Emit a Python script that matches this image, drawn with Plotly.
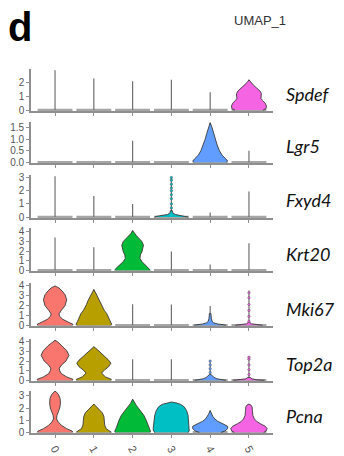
import plotly.graph_objects as go

W, H = 344, 456

clusters = ["0", "1", "2", "3", "4", "5"]
genes = ["Spdef", "Lgr5", "Fxyd4", "Krt20", "Mki67", "Top2a", "Pcna"]
cluster_colors = ["#F8766D", "#B79F00", "#00BA38", "#00BFC4", "#619CFF", "#F564E3"]

# Highest expression per cluster (top of each violin tail); 0 = no expressing cells
spdef_max = [2.9, 2.3, 2.1, 2.2, 1.3, 2.2]
lgr5_max = [0.0, 0.0, 0.94, 0.0, 1.72, 0.5]
fxyd4_max = [3.1, 1.6, 1.0, 3.0, 0.35, 1.95]
krt20_max = [3.4, 2.4, 4.13, 1.95, 0.6, 2.8]
mki67_max = [4.0, 3.63, 2.13, 2.1, 1.97, 3.53]
top2a_max = [4.17, 3.49, 2.19, 2.2, 2.1, 2.5]
pcna_max = [3.4, 2.33, 2.73, 2.5, 1.79, 2.33]

# Violin bodies: expression levels and density half-widths (in cluster-slot units)
spdef_c5_levels = [0, 0.1, 0.3, 0.5, 0.7, 0.85, 1.0, 1.2, 1.4, 1.6, 1.8, 2.0, 2.2]
spdef_c5_width = [0.36, 0.44, 0.45, 0.42, 0.35, 0.31, 0.32, 0.32, 0.28, 0.2, 0.12, 0.05, 0.0]

lgr5_c4_levels = [0, 0.05, 0.15, 0.3, 0.5, 0.75, 1.0, 1.25, 1.5, 1.72]
lgr5_c4_width = [0.42, 0.45, 0.4, 0.31, 0.24, 0.18, 0.13, 0.09, 0.05, 0.0]

fxyd4_c3_levels = [0, 0.05, 0.1, 0.15, 0.2, 0.3, 0.5]
fxyd4_c3_width = [0.43, 0.4, 0.3, 0.18, 0.1, 0.04, 0.02]

krt20_c2_levels = [0, 0.1, 0.3, 0.54, 0.9, 1.23, 1.6, 1.91, 2.3, 2.6, 3.0, 3.28, 3.6, 3.79, 4.13]
krt20_c2_width = [0.46, 0.45, 0.4, 0.33, 0.24, 0.19, 0.2, 0.24, 0.27, 0.28, 0.24, 0.17, 0.1, 0.05, 0.0]

mki67_c0_levels = [0, 0.1, 0.3, 0.6, 0.9, 1.15, 1.5, 2.0, 2.6, 3.1, 3.5, 3.8, 4.0]
mki67_c0_width = [0.45, 0.46, 0.35, 0.2, 0.12, 0.1, 0.16, 0.26, 0.3, 0.26, 0.18, 0.1, 0.0]
mki67_c1_levels = [0, 0.1, 0.4, 0.8, 1.2, 1.5, 1.8, 2.1, 2.5, 2.8, 3.2, 3.63]
mki67_c1_width = [0.44, 0.46, 0.42, 0.37, 0.33, 0.27, 0.22, 0.19, 0.15, 0.11, 0.06, 0.0]
mki67_c4_levels = [0, 0.05, 0.12, 0.25, 0.4, 0.7, 1.2]
mki67_c4_width = [0.4, 0.35, 0.2, 0.09, 0.05, 0.03, 0.02]
mki67_c5_levels = [0, 0.05, 0.15, 0.3]
mki67_c5_width = [0.35, 0.2, 0.06, 0.02]

top2a_c0_levels = [0, 0.1, 0.35, 0.7, 1.0, 1.26, 1.6, 2.0, 2.6, 3.1, 3.6, 4.0, 4.17]
top2a_c0_width = [0.45, 0.46, 0.3, 0.16, 0.12, 0.11, 0.17, 0.28, 0.36, 0.3, 0.18, 0.07, 0.0]
top2a_c1_levels = [0, 0.1, 0.35, 0.75, 1.1, 1.4, 1.78, 2.1, 2.5, 2.9, 3.2, 3.49]
top2a_c1_width = [0.44, 0.45, 0.3, 0.2, 0.28, 0.38, 0.44, 0.38, 0.27, 0.17, 0.09, 0.0]
top2a_c4_levels = [0, 0.05, 0.15, 0.3, 0.45, 0.6]
top2a_c4_width = [0.4, 0.3, 0.18, 0.1, 0.05, 0.02]
top2a_c5_levels = [0, 0.05, 0.15, 0.3]
top2a_c5_width = [0.4, 0.2, 0.08, 0.03]

pcna_c0_levels = [0, 0.1, 0.3, 0.57, 0.85, 1.1, 1.4, 1.7, 2.0, 2.4, 2.8, 3.1, 3.3, 3.4]
pcna_c0_width = [0.46, 0.44, 0.3, 0.17, 0.08, 0.04, 0.05, 0.08, 0.12, 0.14, 0.13, 0.09, 0.04, 0.0]
pcna_c1_levels = [0, 0.1, 0.3, 0.6, 1.0, 1.3, 1.6, 1.9, 2.1, 2.33]
pcna_c1_width = [0.45, 0.42, 0.32, 0.28, 0.27, 0.26, 0.22, 0.14, 0.07, 0.0]
pcna_c2_levels = [0, 0.1, 0.3, 0.6, 1.0, 1.4, 1.7, 1.95, 2.2, 2.4, 2.73]
pcna_c2_width = [0.45, 0.46, 0.43, 0.4, 0.35, 0.29, 0.22, 0.16, 0.1, 0.05, 0.0]
pcna_c3_levels = [0, 0.1, 0.3, 0.6, 1.0, 1.4, 1.8, 2.1, 2.3, 2.43, 2.5]
pcna_c3_width = [0.42, 0.46, 0.47, 0.46, 0.44, 0.43, 0.39, 0.33, 0.24, 0.12, 0.0]
pcna_c4_levels = [0, 0.1, 0.3, 0.5, 0.7, 0.9, 1.1, 1.3, 1.5, 1.79]
pcna_c4_width = [0.28, 0.38, 0.45, 0.45, 0.33, 0.2, 0.12, 0.07, 0.04, 0.0]
pcna_c5_levels = [0, 0.1, 0.3, 0.5, 0.7, 0.9, 1.1, 1.4, 1.8, 2.1, 2.25, 2.33]
pcna_c5_width = [0.38, 0.44, 0.47, 0.42, 0.3, 0.2, 0.14, 0.1, 0.09, 0.08, 0.05, 0.0]

# Individual high-expressing cells shown as points along sparse tails
fxyd4_c3_cells = [0.7, 1.0, 1.4, 1.7, 2.0, 2.2, 2.5, 2.8, 3.0]
mki67_c5_cells = [0.4, 0.9, 1.5, 2.1, 2.8, 3.3]
top2a_c4_cells = [0.8, 1.2, 1.6, 2.0]
top2a_c5_cells = [0.6, 1.1, 1.6, 2.2, 2.4]

gene_max = [spdef_max, lgr5_max, fxyd4_max, krt20_max, mki67_max, top2a_max, pcna_max]
gene_bodies = [
    {5: (spdef_c5_levels, spdef_c5_width)},
    {4: (lgr5_c4_levels, lgr5_c4_width)},
    {3: (fxyd4_c3_levels, fxyd4_c3_width)},
    {2: (krt20_c2_levels, krt20_c2_width)},
    {0: (mki67_c0_levels, mki67_c0_width), 1: (mki67_c1_levels, mki67_c1_width),
     4: (mki67_c4_levels, mki67_c4_width), 5: (mki67_c5_levels, mki67_c5_width)},
    {0: (top2a_c0_levels, top2a_c0_width), 1: (top2a_c1_levels, top2a_c1_width),
     4: (top2a_c4_levels, top2a_c4_width), 5: (top2a_c5_levels, top2a_c5_width)},
    {0: (pcna_c0_levels, pcna_c0_width), 1: (pcna_c1_levels, pcna_c1_width),
     2: (pcna_c2_levels, pcna_c2_width), 3: (pcna_c3_levels, pcna_c3_width),
     4: (pcna_c4_levels, pcna_c4_width), 5: (pcna_c5_levels, pcna_c5_width)},
]
gene_cells = [{}, {}, {3: fxyd4_c3_cells}, {}, {5: mki67_c5_cells},
              {4: top2a_c4_cells, 5: top2a_c5_cells}, {}]

# Panel placement (pixel top/bottom of each strip) and value ranges
panel_px = [(67, 110), (121, 163), (175, 219), (229, 273), (285, 329), (342, 385), (395, 438)]
y_ranges = [[-0.07, 3.0], [-0.04, 1.76], [-0.08, 3.2], [-0.1, 4.4],
            [-0.1, 4.3], [-0.1, 4.3], [-0.08, 3.4]]
y_ticks = [[0, 1, 2], [0, 0.5, 1.0, 1.5], [0, 1, 2, 3], [0, 1, 2, 3, 4],
           [0, 1, 2, 3, 4], [0, 1, 2, 3, 4], [0, 1, 2, 3]]

AXIS_GREY = "#8f8f8f"
TICK_FONT = dict(family="Liberation Sans, Arial", size=10, color="#555555")
x_dom = [31 / W, 273 / W]
x_range = [-0.62, 5.62]

fig = go.Figure()
layout = {}
n = len(genes)

for g in range(n):
    suffix = "" if g == 0 else str(g + 1)
    xa, ya = "x" + suffix, "y" + suffix
    top, bot = panel_px[g]
    last = g == n - 1

    for c in range(len(clusters)):
        # flattened body at zero
        fig.add_trace(go.Scatter(x=[c - 0.45, c + 0.45], y=[0, 0], mode="lines",
                                 line=dict(color="#a6a6a6", width=2.6),
                                 xaxis=xa, yaxis=ya, hoverinfo="skip", showlegend=False))
        # thin tail up to the maximum cell
        if gene_max[g][c] > 0:
            fig.add_trace(go.Scatter(x=[c, c], y=[0, gene_max[g][c]], mode="lines",
                                     line=dict(color="#707070", width=1.2),
                                     xaxis=xa, yaxis=ya, hoverinfo="skip", showlegend=False))
    for c, (lv, wd) in gene_bodies[g].items():
        xs = [c - w for w in wd] + [c + w for w in reversed(wd)]
        ys = list(lv) + list(reversed(lv))
        fig.add_trace(go.Scatter(x=xs, y=ys, mode="lines", fill="toself",
                                 fillcolor=cluster_colors[c],
                                 line=dict(color="#3a3a3a", width=0.9),
                                 xaxis=xa, yaxis=ya, hoverinfo="skip", showlegend=False))
    for c, vals in gene_cells[g].items():
        fig.add_trace(go.Scatter(x=[c] * len(vals), y=vals, mode="markers",
                                 marker=dict(size=2.4, color=cluster_colors[c],
                                             line=dict(color="#555555", width=0.5)),
                                 xaxis=xa, yaxis=ya, hoverinfo="skip", showlegend=False))

    layout["xaxis" + suffix] = dict(
        domain=x_dom, range=x_range, anchor=ya, tickmode="array",
        tickvals=list(range(len(clusters))), ticktext=clusters if last else [""] * len(clusters),
        showticklabels=last, ticks="outside", ticklen=3, tickcolor=AXIS_GREY, tickwidth=1,
        showline=True, linecolor=AXIS_GREY, linewidth=1.6, showgrid=False, zeroline=False,
        tickangle=60, tickfont=dict(family="Liberation Sans, Arial", size=11, color="#555555"),
        fixedrange=True,
    )
    layout["yaxis" + suffix] = dict(
        domain=[1 - bot / H, 1 - top / H], range=y_ranges[g], anchor=xa,
        tickmode="array", tickvals=y_ticks[g], tickformat=".1f" if g == 1 else "d",
        ticks="outside", ticklen=3, tickcolor=AXIS_GREY, tickwidth=1,
        showline=True, linecolor=AXIS_GREY, linewidth=1.6, showgrid=False, zeroline=False,
        tickfont=TICK_FONT, fixedrange=True,
    )

annotations = []
for g, name in enumerate(genes):
    top, bot = panel_px[g]
    annotations.append(dict(
        text=name, xref="paper", yref="paper", x=284 / W, y=1 - ((top + bot) / 2 + 4) / H,
        xanchor="left", yanchor="middle", showarrow=False,
        font=dict(family="Lato, Open Sans, sans-serif", size=18, color="#111111",
                  style="italic"),
    ))

annotations.append(dict(text="<b>d</b>", xref="paper", yref="paper", x=6 / W, y=1 - 24 / H,
                        xanchor="left", yanchor="middle", showarrow=False,
                        font=dict(family="Liberation Sans, Arial", size=40, color="#000000")))
annotations.append(dict(text="UMAP_1", xref="paper", yref="paper", x=260 / W, y=1 - 18 / H,
                        xanchor="center", yanchor="middle", showarrow=False,
                        font=dict(family="Liberation Sans, Arial", size=13, color="#333333")))

fig.update_layout(
    width=W, height=H, margin=dict(l=0, r=0, t=0, b=0),
    paper_bgcolor="white", plot_bgcolor="white",
    annotations=annotations, showlegend=False,
    **layout,
)

fig.write_html("out.html", include_plotlyjs=True, config={"displayModeBar": False})
